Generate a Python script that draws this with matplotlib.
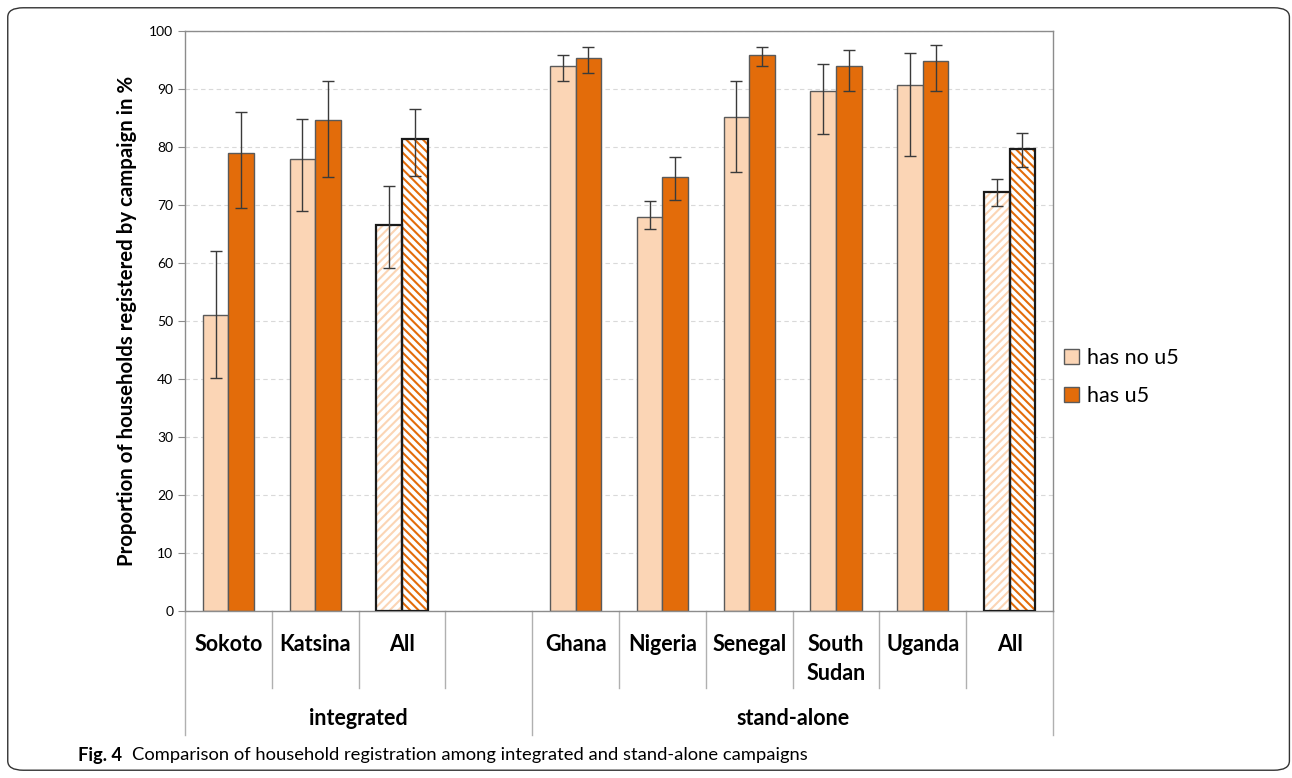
import numpy as np
import matplotlib.pyplot as plt
from matplotlib.patches import FancyBboxPatch

plt.rcParams['font.family'] = ['Lato', 'DejaVu Sans']
plt.rcParams['hatch.linewidth'] = 1.5

# categories (empty slot separates the two campaign types)
categories = ['Sokoto', 'Katsina', 'All', '', 'Ghana', 'Nigeria', 'Senegal', 'South\nSudan', 'Uganda', 'All']
groups = ['integrated', 'stand-alone']
group_spans = [(0, 4), (4, 10)]
series = ['has no u5', 'has u5']

# proportion registered (%) with 95% CI bounds
no_u5 = [51.0, 78.0, 66.6, np.nan, 94.0, 68.0, 85.1, 89.6, 90.6, 72.2]
no_u5_lo = [40.2, 69.0, 59.2, np.nan, 91.3, 65.8, 75.6, 82.2, 78.5, 69.9]
no_u5_hi = [62.1, 84.9, 73.2, np.nan, 95.9, 70.6, 91.4, 94.3, 96.2, 74.5]

u5 = [78.9, 84.7, 81.4, np.nan, 95.3, 74.8, 95.9, 94.0, 94.8, 79.6]
u5_lo = [69.4, 74.8, 75.0, np.nan, 92.7, 70.9, 93.9, 89.7, 89.6, 76.5]
u5_hi = [86.0, 91.3, 86.5, np.nan, 97.2, 78.3, 97.3, 96.7, 97.6, 82.4]

pooled = [2, 9]  # the "All" bars

light = '#FBD5B5'
dark = '#E36C0A'
edge = '#5a5a5a'
spine = '#8c8c8c'

fig = plt.figure(figsize=(12.92, 7.78), dpi=100)
ax = fig.add_axes([0.1432, 0.2147, 0.6718, 0.7455])

x = np.arange(len(categories)) + 0.5
w = 0.295

for vals, lo, hi, col, off, hatch in [(no_u5, no_u5_lo, no_u5_hi, light, -w / 2, '////'),
                                       (u5, u5_lo, u5_hi, dark, w / 2, '\\\\\\\\')]:
    vals = np.array(vals)
    for i in range(len(categories)):
        if np.isnan(vals[i]):
            continue
        if i in pooled:
            ax.bar(x[i] + off, vals[i], w, color='white', edgecolor=col, hatch=hatch,
                   linewidth=0, zorder=2)
            ax.bar(x[i] + off, vals[i], w, color='none', edgecolor='#1a1a1a',
                   linewidth=1.6, zorder=3)
        else:
            ax.bar(x[i] + off, vals[i], w, color=col, edgecolor=edge, linewidth=1.0, zorder=2)
    err = [vals - np.array(lo), np.array(hi) - vals]
    ax.errorbar(x + off, vals, yerr=err, fmt='none', ecolor='#3a3a3a', elinewidth=1.0,
                capsize=4, capthick=1.0, zorder=4)

# legend proxies
ax.bar([0], [0], 0, color=light, edgecolor=edge, label=series[0])
ax.bar([0], [0], 0, color=dark, edgecolor=edge, label=series[1])
ax.legend(loc='center left', bbox_to_anchor=(1.0, 0.403), frameon=False, fontsize=15.5,
          handlelength=0.7, handleheight=0.7, handletextpad=0.4, labelspacing=0.85,
          borderpad=0.2, borderaxespad=0.3)

ax.set_xlim(0, 10)
ax.set_ylim(0, 100)
ax.set_yticks(np.arange(0, 101, 10))
ax.tick_params(axis='y', labelsize=10, length=5, color=spine, direction='out')
ax.set_xticks([])
ax.yaxis.grid(True, linestyle=(0, (4, 3)), color='#d9d9d9', linewidth=0.8, zorder=0)
ax.set_axisbelow(True)
for s in ax.spines.values():
    s.set_color(spine)
    s.set_linewidth(1.0)
ax.set_ylabel('Proportion of households registered by campaign in %', fontsize=14.7,
              fontweight='bold', labelpad=9)

# two-level category axis drawn below the plot
tr = ax.get_xaxis_transform()
for k in range(11):
    depth = -0.214 if k in (0, 4, 10) else -0.133
    ax.plot([k, k], [0, depth], transform=tr, color='#b0b0b0', lw=1.0, clip_on=False)
for i, lab in enumerate(categories):
    ax.text(x[i], -0.040, lab, transform=tr, ha='center', va='top', fontsize=15.5,
            fontweight='bold', linespacing=1.45)
for g, (a, b) in zip(groups, group_spans):
    ax.text((a + b) / 2, -0.186, g, transform=tr, ha='center', va='center', fontsize=15.5,
            fontweight='bold')

# caption and frame
fig.text(0.060, 0.029, 'Fig. 4', fontsize=13.2, fontweight='bold', va='center')
fig.text(0.1025, 0.029, 'Comparison of household registration among integrated and stand-alone campaigns',
         fontsize=13.2, va='center')
fig.patches.append(FancyBboxPatch((0.006, 0.010), 0.992, 0.980, boxstyle='round,pad=0,rounding_size=0.012',
                                  transform=fig.transFigure, facecolor='none', edgecolor='#333333',
                                  linewidth=1.0))

fig.savefig('out.png', dpi=100)
